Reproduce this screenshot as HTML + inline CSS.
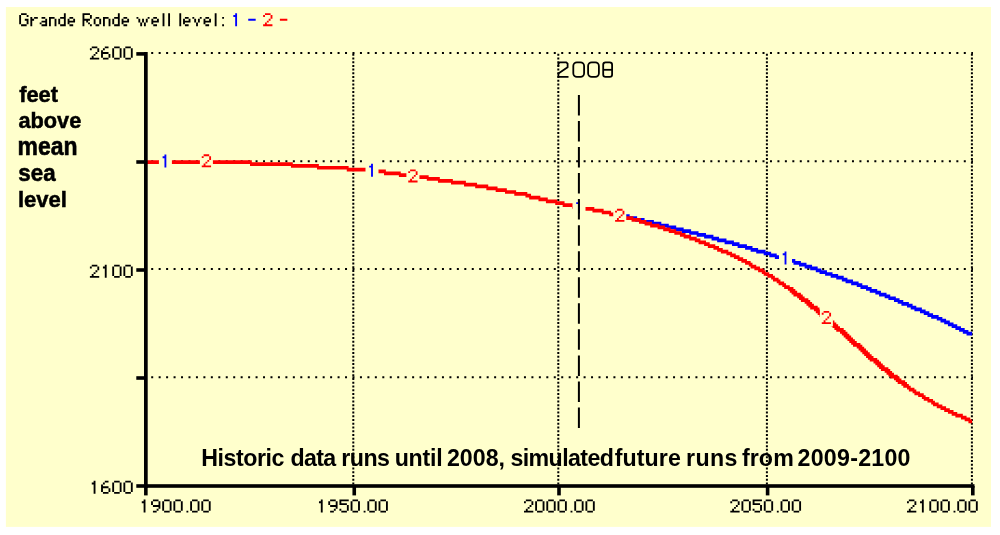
<!DOCTYPE html>
<html><head><meta charset="utf-8"><style>
html,body{margin:0;padding:0;background:#fff;width:1000px;height:535px;overflow:hidden}
svg{position:absolute;left:0;top:0;will-change:transform}
</style></head><body>
<svg width="1000" height="535" viewBox="0 0 1000 535">
<rect x="5.9" y="7" width="985.1" height="519.9" fill="#ffffcc"/>
<line x1="151.2" y1="53.0" x2="973" y2="53.0" stroke="#000" stroke-width="2" stroke-dasharray="2 5.455"/>
<line x1="151.2" y1="161.2" x2="973" y2="161.2" stroke="#000" stroke-width="2" stroke-dasharray="2 5.455"/>
<line x1="151.2" y1="269.1" x2="973" y2="269.1" stroke="#000" stroke-width="2" stroke-dasharray="2 5.455"/>
<line x1="151.2" y1="377.2" x2="973" y2="377.2" stroke="#000" stroke-width="2" stroke-dasharray="2 5.455"/>
<line x1="353.3" y1="53.7" x2="353.3" y2="485" stroke="#000" stroke-width="2" stroke-dasharray="2 1.728"/>
<line x1="558.3" y1="53.7" x2="558.3" y2="485" stroke="#000" stroke-width="2" stroke-dasharray="2 1.728"/>
<line x1="766.9" y1="53.7" x2="766.9" y2="485" stroke="#000" stroke-width="2" stroke-dasharray="2 1.728"/>
<line x1="971.9" y1="53.7" x2="971.9" y2="485" stroke="#000" stroke-width="2" stroke-dasharray="2 1.728"/>
<path d="M696.68 234.86H713.43V236.73H696.68zM666.90 227.41H683.65V229.27H666.90zM901.41 303.83H912.58V305.70H901.41zM635.26 219.95H653.87V221.82H635.26zM737.63 246.05H752.51V247.91H737.63zM804.63 266.55H817.66V268.42H804.63zM681.79 231.14H698.54V233.00H681.79zM856.74 285.19H867.91V287.06H856.74zM627.81 218.09H644.57V219.95H627.81zM717.15 240.46H733.90V242.32H717.15zM642.70 221.82H661.32V223.68H642.70zM810.21 268.42H821.38V270.28H810.21zM884.66 296.38H895.83V298.24H884.66zM787.88 260.96H800.91V262.82H787.88zM910.72 307.56H921.88V309.42H910.72zM652.01 223.68H668.76V225.54H652.01zM962.83 331.79H972.14V333.66H962.83zM947.94 324.34H957.25V326.20H947.94zM793.46 262.82H806.49V264.69H793.46zM888.38 298.24H899.55V300.10H888.38zM612.92 214.36H629.68V216.22H612.92zM951.66 326.20H960.97V328.06H951.66zM936.77 318.74H946.08V320.61H936.77zM763.68 253.50H776.71V255.37H763.68zM774.85 257.23H789.74V259.10H774.85zM711.57 238.59H726.46V240.46H711.57zM893.97 300.10H903.27V301.97H893.97zM799.04 264.69H812.07V266.55H799.04zM875.35 292.65H886.52V294.51H875.35zM955.39 328.06H964.69V329.93H955.39zM745.07 247.91H758.10V249.78H745.07zM940.50 320.61H949.80V322.47H940.50zM674.34 229.27H691.10V231.14H674.34zM689.23 233.00H705.98V234.86H689.23zM780.43 259.10H795.32V260.96H780.43zM860.46 287.06H871.63V288.92H860.46zM879.08 294.51H890.24V296.38H879.08zM944.22 322.47H953.52V324.34H944.22zM927.47 315.02H938.63V316.88H927.47zM618.51 216.22H637.12V218.09H618.51zM750.65 249.78H765.54V251.64H750.65zM815.80 270.28H826.96V272.14H815.80zM866.05 288.92H877.22V290.78H866.05zM914.44 309.42H925.61V311.29H914.44zM825.10 274.01H838.13V275.87H825.10zM897.69 301.97H908.86V303.83H897.69zM732.04 244.18H746.93V246.05H732.04zM704.12 236.73H719.01V238.59H704.12zM659.45 225.54H676.21V227.41H659.45zM959.11 329.93H968.41V331.79H959.11zM920.02 311.29H929.33V313.15H920.02zM756.24 251.64H771.13V253.50H756.24zM906.99 305.70H916.30V307.56H906.99zM724.60 242.32H739.49V244.18H724.60zM845.57 281.46H858.60V283.33H845.57zM769.27 255.37H782.29V257.23H769.27zM830.69 275.87H843.71V277.74H830.69zM923.75 313.15H933.05V315.02H923.75zM836.27 277.74H847.44V279.60H836.27zM819.52 272.14H832.55V274.01H819.52zM841.85 279.60H853.02V281.46H841.85zM851.16 283.33H862.33V285.19H851.16zM612.92 212.50H620.37V214.36H612.92zM869.77 290.78H880.94V292.65H869.77zM966.55 333.66H972.14V335.52H966.55zM931.19 316.88H942.36V318.74H931.19z" fill="#0000ff"/>
<path d="M741.35 260.96H750.65V262.82H741.35zM249.99 164.03H318.86V165.90H249.99zM858.60 348.57H866.05V350.43H858.60zM529.17 197.58H547.78V199.45H529.17zM495.67 190.13H516.14V191.99H495.67zM657.59 227.41H670.62V229.27H657.59zM914.44 393.30H923.75V395.17H914.44zM426.80 178.94H452.86V180.81H426.80zM145.76 162.17H292.80V164.03H145.76zM581.28 208.77H603.62V210.63H581.28zM545.92 201.31H564.53V203.18H545.92zM867.91 357.89H877.22V359.75H867.91zM860.46 350.43H867.91V352.30H860.46zM713.43 247.91H722.74V249.78H713.43zM888.38 374.66H897.69V376.53H888.38zM767.40 275.87H774.85V277.74H767.40zM879.08 367.21H888.38V369.07H879.08zM437.97 180.81H465.89V182.67H437.97zM624.09 218.09H640.84V219.95H624.09zM346.77 169.62H385.86V171.49H346.77zM592.45 210.63H611.06V212.50H592.45zM538.48 199.45H557.09V201.31H538.48zM555.23 203.18H573.84V205.04H555.23zM931.19 402.62H938.63V404.49H931.19zM504.98 191.99H527.31V193.86H504.98zM663.18 229.27H676.21V231.14H663.18zM884.66 370.94H892.10V372.80H884.66zM464.03 184.54H488.22V186.40H464.03zM826.96 320.61H834.41V322.47H826.96zM906.99 387.71H914.44V389.58H906.99zM918.16 395.17H925.61V397.03H918.16zM698.54 242.32H709.71V244.18H698.54zM955.39 415.67H966.55V417.54H955.39zM374.69 171.49H400.75V173.35H374.69zM862.33 352.30H869.77V354.16H862.33zM771.13 277.74H778.57V279.60H771.13zM514.28 193.86H531.03V195.72H514.28zM758.10 270.28H765.54V272.14H758.10zM921.88 397.03H929.33V398.90H921.88zM475.20 186.40H497.53V188.26H475.20zM793.46 294.51H802.77V296.38H793.46zM908.86 389.58H916.30V391.44H908.86zM398.89 175.22H428.67V177.08H398.89zM601.76 212.50H618.51V214.36H601.76zM562.67 205.04H583.15V206.90H562.67zM720.87 251.64H732.04V253.50H720.87zM145.76 160.30H251.85V162.17H145.76zM772.99 279.60H780.43V281.46H772.99zM797.18 296.38H804.63V298.24H797.18zM413.78 177.08H439.83V178.94H413.78zM609.20 214.36H625.95V216.22H609.20zM571.98 206.90H594.31V208.77H571.98zM525.45 195.72H540.34V197.58H525.45zM912.58 391.44H920.02V393.30H912.58zM316.99 167.76H376.55V169.62H316.99zM707.85 246.05H719.01V247.91H707.85zM689.23 238.59H700.40V240.46H689.23zM745.07 262.82H752.51V264.69H745.07zM821.38 316.88H830.69V318.74H821.38zM841.85 333.66H849.30V335.52H841.85zM763.68 274.01H772.99V275.87H763.68zM799.04 298.24H808.35V300.10H799.04zM789.74 290.78H797.18V292.65H789.74zM290.94 165.90H348.63V167.76H290.94zM810.21 307.56H819.52V309.42H810.21zM638.98 221.82H652.01V223.68H638.98zM791.60 292.65H800.91V294.51H791.60zM668.76 231.14H681.79V233.00H668.76zM451.00 182.67H477.06V184.54H451.00zM644.57 223.68H659.45V225.54H644.57zM616.65 216.22H633.40V218.09H616.65zM817.66 313.15H825.10V315.02H817.66zM750.65 266.55H759.96V268.42H750.65zM679.93 234.86H691.10V236.73H679.93zM737.63 259.10H746.93V260.96H737.63zM836.27 329.93H845.57V331.79H836.27zM856.74 346.70H864.19V348.57H856.74zM847.44 339.25H854.88V341.11H847.44zM486.36 188.26H506.84V190.13H486.36zM650.15 225.54H665.04V227.41H650.15zM726.46 253.50H735.76V255.37H726.46zM839.99 331.79H847.44V333.66H839.99zM880.94 369.07H890.24V370.94H880.94zM631.54 219.95H646.43V221.82H631.54zM694.82 240.46H705.98V242.32H694.82zM903.27 385.85H910.72V387.71H903.27zM730.18 255.37H739.49V257.23H730.18zM851.16 342.98H860.46V344.84H851.16zM754.38 268.42H763.68V270.28H754.38zM384.00 173.35H415.64V175.22H384.00zM717.15 249.78H728.32V251.64H717.15zM853.02 344.84H862.33V346.70H853.02zM873.49 361.62H880.94V363.48H873.49zM877.22 365.34H884.66V367.21H877.22zM784.16 287.06H793.46V288.92H784.16zM683.65 236.73H696.68V238.59H683.65zM704.12 244.18H715.29V246.05H704.12zM819.52 315.02H828.82V316.88H819.52zM897.69 382.12H906.99V383.98H897.69zM748.79 264.69H756.24V266.55H748.79zM787.88 288.92H795.32V290.78H787.88zM733.90 257.23H743.21V259.10H733.90zM901.41 383.98H908.86V385.85H901.41zM808.35 305.70H817.66V307.56H808.35zM813.93 309.42H821.38V311.29H813.93zM832.55 326.20H839.99V328.06H832.55zM968.41 421.26H972.14V423.13H968.41zM815.80 311.29H823.24V313.15H815.80zM834.41 328.06H843.71V329.93H834.41zM782.29 285.19H789.74V287.06H782.29zM828.82 322.47H836.27V324.34H828.82zM960.97 417.54H970.28V419.40H960.97zM869.77 359.75H879.08V361.62H869.77zM830.69 324.34H838.13V326.20H830.69zM849.30 341.11H856.74V342.98H849.30zM947.94 411.94H957.25V413.81H947.94zM951.66 413.81H962.83V415.67H951.66zM875.35 363.48H882.80V365.34H875.35zM895.83 380.26H905.13V382.12H895.83zM940.50 408.22H949.80V410.08H940.50zM800.91 300.10H810.21V301.97H800.91zM964.69 419.40H972.14V421.26H964.69zM776.71 281.46H784.16V283.33H776.71zM890.24 376.53H899.55V378.39H890.24zM927.47 400.76H934.91V402.62H927.47zM933.05 404.49H942.36V406.35H933.05zM778.57 283.33H786.02V285.19H778.57zM893.97 378.39H901.41V380.26H893.97zM806.49 303.83H813.93V305.70H806.49zM864.19 354.16H871.63V356.02H864.19zM843.71 335.52H851.16V337.38H843.71zM674.34 233.00H685.51V234.86H674.34zM936.77 406.35H946.08V408.22H936.77zM923.75 398.90H933.05V400.76H923.75zM866.05 356.02H873.49V357.89H866.05zM886.52 372.80H893.97V374.66H886.52zM845.57 337.38H853.02V339.25H845.57zM804.63 301.97H812.07V303.83H804.63zM825.10 318.74H832.55V320.61H825.10zM761.82 272.14H769.27V274.01H761.82zM944.22 410.08H953.52V411.94H944.22z" fill="#ff0000"/>
<rect x="144" y="52" width="3.7" height="436" fill="#000"/>
<rect x="144" y="484.2" width="830.5" height="3.6" fill="#000"/>
<rect x="136.3" y="52.1" width="8" height="3.6" fill="#000"/>
<rect x="136.3" y="160.2" width="8" height="3.6" fill="#000"/>
<rect x="136.3" y="268.2" width="8" height="3.6" fill="#000"/>
<rect x="136.3" y="376.2" width="8" height="3.6" fill="#000"/>
<rect x="136.3" y="484.2" width="8" height="3.6" fill="#000"/>
<rect x="144.04999999999998" y="486" width="3.6" height="9.4" fill="#000"/>
<rect x="352.45" y="486" width="3.6" height="9.4" fill="#000"/>
<rect x="557.2" y="486" width="3.6" height="9.4" fill="#000"/>
<rect x="765.8000000000001" y="486" width="3.6" height="9.4" fill="#000"/>
<rect x="971.0" y="486" width="3.6" height="9.4" fill="#000"/>
<rect x="158.90" y="150.50" width="13.0" height="19" fill="#ffffcc"/>
<path d="M164.47 154.50h1.86v1.86h-1.86zM162.61 156.36h3.72v1.86h-3.72zM164.47 158.22h1.86v1.86h-1.86zM164.47 160.09h1.86v1.86h-1.86zM164.47 161.95h1.86v1.86h-1.86zM164.47 163.81h1.86v1.86h-1.86zM164.47 165.67h1.86v1.86h-1.86z" fill="#0000ff"/>
<rect x="199.90" y="150.30" width="13.0" height="19" fill="#ffffcc"/>
<path d="M203.61 154.30h5.59v1.86h-5.59zM201.75 156.16h1.86v1.86h-1.86zM209.19 156.16h1.86v1.86h-1.86zM209.19 158.02h1.86v1.86h-1.86zM207.33 159.89h1.86v1.86h-1.86zM205.47 161.75h1.86v1.86h-1.86zM203.61 163.61h1.86v1.86h-1.86zM201.75 165.47h9.31v1.86h-9.31z" fill="#ff0000"/>
<rect x="365.50" y="159.80" width="13.0" height="19" fill="#ffffcc"/>
<path d="M371.07 163.80h1.86v1.86h-1.86zM369.21 165.66h3.72v1.86h-3.72zM371.07 167.52h1.86v1.86h-1.86zM371.07 169.39h1.86v1.86h-1.86zM371.07 171.25h1.86v1.86h-1.86zM371.07 173.11h1.86v1.86h-1.86zM371.07 174.97h1.86v1.86h-1.86z" fill="#0000ff"/>
<rect x="406.40" y="165.40" width="13.0" height="19" fill="#ffffcc"/>
<path d="M410.11 169.40h5.59v1.86h-5.59zM408.25 171.26h1.86v1.86h-1.86zM415.69 171.26h1.86v1.86h-1.86zM415.69 173.12h1.86v1.86h-1.86zM413.83 174.99h1.86v1.86h-1.86zM411.97 176.85h1.86v1.86h-1.86zM410.11 178.71h1.86v1.86h-1.86zM408.25 180.57h9.31v1.86h-9.31z" fill="#ff0000"/>
<rect x="572.50" y="196.30" width="13.0" height="19" fill="#ffffcc"/>
<path d="M578.07 200.30h1.86v1.86h-1.86zM576.21 202.16h3.72v1.86h-3.72zM578.07 204.02h1.86v1.86h-1.86zM578.07 205.89h1.86v1.86h-1.86zM578.07 207.75h1.86v1.86h-1.86zM578.07 209.61h1.86v1.86h-1.86zM578.07 211.47h1.86v1.86h-1.86z" fill="#0000ff"/>
<rect x="613.25" y="204.80" width="13.0" height="19" fill="#ffffcc"/>
<path d="M616.96 208.80h5.59v1.86h-5.59zM615.10 210.66h1.86v1.86h-1.86zM622.54 210.66h1.86v1.86h-1.86zM622.54 212.52h1.86v1.86h-1.86zM620.68 214.39h1.86v1.86h-1.86zM618.82 216.25h1.86v1.86h-1.86zM616.96 218.11h1.86v1.86h-1.86zM615.10 219.97h9.31v1.86h-9.31z" fill="#ff0000"/>
<rect x="779.00" y="247.50" width="13.0" height="19" fill="#ffffcc"/>
<path d="M784.57 251.50h1.86v1.86h-1.86zM782.71 253.36h3.72v1.86h-3.72zM784.57 255.22h1.86v1.86h-1.86zM784.57 257.09h1.86v1.86h-1.86zM784.57 258.95h1.86v1.86h-1.86zM784.57 260.81h1.86v1.86h-1.86zM784.57 262.67h1.86v1.86h-1.86z" fill="#0000ff"/>
<rect x="819.90" y="307.00" width="13.0" height="19" fill="#ffffcc"/>
<path d="M823.61 311.00h5.59v1.86h-5.59zM821.75 312.86h1.86v1.86h-1.86zM829.19 312.86h1.86v1.86h-1.86zM829.19 314.72h1.86v1.86h-1.86zM827.33 316.59h1.86v1.86h-1.86zM825.47 318.45h1.86v1.86h-1.86zM823.61 320.31h1.86v1.86h-1.86zM821.75 322.17h9.31v1.86h-9.31z" fill="#ff0000"/>
<line x1="578.9" y1="94.9" x2="578.9" y2="428.3" stroke="#000" stroke-width="2" stroke-dasharray="20.5 5.55"/>
<path d="M21.06 13.20h5.59v1.86h-5.59zM19.20 15.06h1.86v1.86h-1.86zM26.65 15.06h1.86v1.86h-1.86zM19.20 16.92h1.86v1.86h-1.86zM19.20 18.79h1.86v1.86h-1.86zM24.79 18.79h3.72v1.86h-3.72zM19.20 20.65h1.86v1.86h-1.86zM26.65 20.65h1.86v1.86h-1.86zM19.20 22.51h1.86v1.86h-1.86zM26.65 22.51h1.86v1.86h-1.86zM21.06 24.37h5.59v1.86h-5.59zM30.37 16.92h1.86v1.86h-1.86zM34.10 16.92h3.72v1.86h-3.72zM30.37 18.79h3.72v1.86h-3.72zM30.37 20.65h1.86v1.86h-1.86zM30.37 22.51h1.86v1.86h-1.86zM30.37 24.37h1.86v1.86h-1.86zM41.54 16.92h3.72v1.86h-3.72zM45.27 18.79h1.86v1.86h-1.86zM41.54 20.65h5.59v1.86h-5.59zM39.68 22.51h1.86v1.86h-1.86zM45.27 22.51h1.86v1.86h-1.86zM41.54 24.37h5.59v1.86h-5.59zM48.99 16.92h5.59v1.86h-5.59zM48.99 18.79h1.86v1.86h-1.86zM54.58 18.79h1.86v1.86h-1.86zM48.99 20.65h1.86v1.86h-1.86zM54.58 20.65h1.86v1.86h-1.86zM48.99 22.51h1.86v1.86h-1.86zM54.58 22.51h1.86v1.86h-1.86zM48.99 24.37h1.86v1.86h-1.86zM54.58 24.37h1.86v1.86h-1.86zM63.89 13.20h1.86v1.86h-1.86zM63.89 15.06h1.86v1.86h-1.86zM60.16 16.92h5.59v1.86h-5.59zM58.30 18.79h1.86v1.86h-1.86zM63.89 18.79h1.86v1.86h-1.86zM58.30 20.65h1.86v1.86h-1.86zM63.89 20.65h1.86v1.86h-1.86zM58.30 22.51h1.86v1.86h-1.86zM63.89 22.51h1.86v1.86h-1.86zM60.16 24.37h5.59v1.86h-5.59zM69.47 16.92h3.72v1.86h-3.72zM67.61 18.79h1.86v1.86h-1.86zM73.20 18.79h1.86v1.86h-1.86zM67.61 20.65h7.45v1.86h-7.45zM67.61 22.51h1.86v1.86h-1.86zM69.47 24.37h3.72v1.86h-3.72zM82.51 13.20h7.45v1.86h-7.45zM82.51 15.06h1.86v1.86h-1.86zM89.96 15.06h1.86v1.86h-1.86zM82.51 16.92h1.86v1.86h-1.86zM89.96 16.92h1.86v1.86h-1.86zM82.51 18.79h7.45v1.86h-7.45zM82.51 20.65h1.86v1.86h-1.86zM86.23 20.65h1.86v1.86h-1.86zM82.51 22.51h1.86v1.86h-1.86zM88.09 22.51h1.86v1.86h-1.86zM82.51 24.37h1.86v1.86h-1.86zM89.96 24.37h1.86v1.86h-1.86zM95.54 16.92h3.72v1.86h-3.72zM93.68 18.79h1.86v1.86h-1.86zM99.27 18.79h1.86v1.86h-1.86zM93.68 20.65h1.86v1.86h-1.86zM99.27 20.65h1.86v1.86h-1.86zM93.68 22.51h1.86v1.86h-1.86zM99.27 22.51h1.86v1.86h-1.86zM95.54 24.37h3.72v1.86h-3.72zM102.99 16.92h5.59v1.86h-5.59zM102.99 18.79h1.86v1.86h-1.86zM108.58 18.79h1.86v1.86h-1.86zM102.99 20.65h1.86v1.86h-1.86zM108.58 20.65h1.86v1.86h-1.86zM102.99 22.51h1.86v1.86h-1.86zM108.58 22.51h1.86v1.86h-1.86zM102.99 24.37h1.86v1.86h-1.86zM108.58 24.37h1.86v1.86h-1.86zM117.89 13.20h1.86v1.86h-1.86zM117.89 15.06h1.86v1.86h-1.86zM114.16 16.92h5.59v1.86h-5.59zM112.30 18.79h1.86v1.86h-1.86zM117.89 18.79h1.86v1.86h-1.86zM112.30 20.65h1.86v1.86h-1.86zM117.89 20.65h1.86v1.86h-1.86zM112.30 22.51h1.86v1.86h-1.86zM117.89 22.51h1.86v1.86h-1.86zM114.16 24.37h5.59v1.86h-5.59zM123.47 16.92h3.72v1.86h-3.72zM121.61 18.79h1.86v1.86h-1.86zM127.20 18.79h1.86v1.86h-1.86zM121.61 20.65h7.45v1.86h-7.45zM121.61 22.51h1.86v1.86h-1.86zM123.47 24.37h3.72v1.86h-3.72zM136.51 16.92h1.86v1.86h-1.86zM147.68 16.92h1.86v1.86h-1.86zM138.37 18.79h1.86v1.86h-1.86zM142.09 18.79h1.86v1.86h-1.86zM145.82 18.79h1.86v1.86h-1.86zM138.37 20.65h1.86v1.86h-1.86zM142.09 20.65h1.86v1.86h-1.86zM145.82 20.65h1.86v1.86h-1.86zM140.23 22.51h1.86v1.86h-1.86zM143.95 22.51h1.86v1.86h-1.86zM140.23 24.37h1.86v1.86h-1.86zM143.95 24.37h1.86v1.86h-1.86zM153.26 16.92h3.72v1.86h-3.72zM151.40 18.79h1.86v1.86h-1.86zM156.99 18.79h1.86v1.86h-1.86zM151.40 20.65h7.45v1.86h-7.45zM151.40 22.51h1.86v1.86h-1.86zM153.26 24.37h3.72v1.86h-3.72zM162.57 13.20h1.86v1.86h-1.86zM162.57 15.06h1.86v1.86h-1.86zM162.57 16.92h1.86v1.86h-1.86zM162.57 18.79h1.86v1.86h-1.86zM162.57 20.65h1.86v1.86h-1.86zM162.57 22.51h1.86v1.86h-1.86zM162.57 24.37h1.86v1.86h-1.86zM168.16 13.20h1.86v1.86h-1.86zM168.16 15.06h1.86v1.86h-1.86zM168.16 16.92h1.86v1.86h-1.86zM168.16 18.79h1.86v1.86h-1.86zM168.16 20.65h1.86v1.86h-1.86zM168.16 22.51h1.86v1.86h-1.86zM168.16 24.37h1.86v1.86h-1.86zM179.33 13.20h1.86v1.86h-1.86zM179.33 15.06h1.86v1.86h-1.86zM179.33 16.92h1.86v1.86h-1.86zM179.33 18.79h1.86v1.86h-1.86zM179.33 20.65h1.86v1.86h-1.86zM179.33 22.51h1.86v1.86h-1.86zM179.33 24.37h1.86v1.86h-1.86zM184.92 16.92h3.72v1.86h-3.72zM183.06 18.79h1.86v1.86h-1.86zM188.64 18.79h1.86v1.86h-1.86zM183.06 20.65h7.45v1.86h-7.45zM183.06 22.51h1.86v1.86h-1.86zM184.92 24.37h3.72v1.86h-3.72zM192.37 16.92h1.86v1.86h-1.86zM199.81 16.92h1.86v1.86h-1.86zM194.23 18.79h1.86v1.86h-1.86zM197.95 18.79h1.86v1.86h-1.86zM194.23 20.65h1.86v1.86h-1.86zM197.95 20.65h1.86v1.86h-1.86zM196.09 22.51h1.86v1.86h-1.86zM196.09 24.37h1.86v1.86h-1.86zM205.40 16.92h3.72v1.86h-3.72zM203.54 18.79h1.86v1.86h-1.86zM209.12 18.79h1.86v1.86h-1.86zM203.54 20.65h7.45v1.86h-7.45zM203.54 22.51h1.86v1.86h-1.86zM205.40 24.37h3.72v1.86h-3.72zM214.71 13.20h1.86v1.86h-1.86zM214.71 15.06h1.86v1.86h-1.86zM214.71 16.92h1.86v1.86h-1.86zM214.71 18.79h1.86v1.86h-1.86zM214.71 20.65h1.86v1.86h-1.86zM214.71 22.51h1.86v1.86h-1.86zM214.71 24.37h1.86v1.86h-1.86zM222.16 16.92h1.86v1.86h-1.86zM222.16 24.37h1.86v1.86h-1.86z" fill="#000"/>
<path d="M235.19 13.20h1.86v1.86h-1.86zM233.33 15.06h3.72v1.86h-3.72zM235.19 16.92h1.86v1.86h-1.86zM235.19 18.79h1.86v1.86h-1.86zM235.19 20.65h1.86v1.86h-1.86zM235.19 22.51h1.86v1.86h-1.86zM235.19 24.37h1.86v1.86h-1.86zM248.23 18.79h7.45v1.86h-7.45z" fill="#0000ff"/>
<path d="M264.98 13.20h5.59v1.86h-5.59zM263.12 15.06h1.86v1.86h-1.86zM270.57 15.06h1.86v1.86h-1.86zM270.57 16.92h1.86v1.86h-1.86zM268.71 18.79h1.86v1.86h-1.86zM266.85 20.65h1.86v1.86h-1.86zM264.98 22.51h1.86v1.86h-1.86zM263.12 24.37h9.31v1.86h-9.31zM279.88 18.79h7.45v1.86h-7.45z" fill="#ff0000"/>
<path d="M91.76 46.50h5.59v1.86h-5.59zM89.90 48.36h1.86v1.86h-1.86zM97.35 48.36h1.86v1.86h-1.86zM97.35 50.22h1.86v1.86h-1.86zM95.49 52.09h1.86v1.86h-1.86zM93.62 53.95h1.86v1.86h-1.86zM91.76 55.81h1.86v1.86h-1.86zM89.90 57.67h9.31v1.86h-9.31zM104.80 46.50h3.72v1.86h-3.72zM102.93 48.36h1.86v1.86h-1.86zM101.07 50.22h1.86v1.86h-1.86zM101.07 52.09h7.45v1.86h-7.45zM101.07 53.95h1.86v1.86h-1.86zM108.52 53.95h1.86v1.86h-1.86zM101.07 55.81h1.86v1.86h-1.86zM108.52 55.81h1.86v1.86h-1.86zM102.93 57.67h5.59v1.86h-5.59zM114.11 46.50h5.59v1.86h-5.59zM112.24 48.36h1.86v1.86h-1.86zM119.69 48.36h1.86v1.86h-1.86zM112.24 50.22h1.86v1.86h-1.86zM119.69 50.22h1.86v1.86h-1.86zM112.24 52.09h1.86v1.86h-1.86zM119.69 52.09h1.86v1.86h-1.86zM112.24 53.95h1.86v1.86h-1.86zM119.69 53.95h1.86v1.86h-1.86zM112.24 55.81h1.86v1.86h-1.86zM119.69 55.81h1.86v1.86h-1.86zM114.11 57.67h5.59v1.86h-5.59zM125.28 46.50h5.59v1.86h-5.59zM123.42 48.36h1.86v1.86h-1.86zM130.86 48.36h1.86v1.86h-1.86zM123.42 50.22h1.86v1.86h-1.86zM130.86 50.22h1.86v1.86h-1.86zM123.42 52.09h1.86v1.86h-1.86zM130.86 52.09h1.86v1.86h-1.86zM123.42 53.95h1.86v1.86h-1.86zM130.86 53.95h1.86v1.86h-1.86zM123.42 55.81h1.86v1.86h-1.86zM130.86 55.81h1.86v1.86h-1.86zM125.28 57.67h5.59v1.86h-5.59z" fill="#000"/>
<path d="M91.76 264.75h5.59v1.86h-5.59zM89.90 266.61h1.86v1.86h-1.86zM97.35 266.61h1.86v1.86h-1.86zM97.35 268.47h1.86v1.86h-1.86zM95.49 270.34h1.86v1.86h-1.86zM93.62 272.20h1.86v1.86h-1.86zM91.76 274.06h1.86v1.86h-1.86zM89.90 275.92h9.31v1.86h-9.31zM104.80 264.75h1.86v1.86h-1.86zM102.93 266.61h3.72v1.86h-3.72zM104.80 268.47h1.86v1.86h-1.86zM104.80 270.34h1.86v1.86h-1.86zM104.80 272.20h1.86v1.86h-1.86zM104.80 274.06h1.86v1.86h-1.86zM104.80 275.92h1.86v1.86h-1.86zM114.11 264.75h5.59v1.86h-5.59zM112.24 266.61h1.86v1.86h-1.86zM119.69 266.61h1.86v1.86h-1.86zM112.24 268.47h1.86v1.86h-1.86zM119.69 268.47h1.86v1.86h-1.86zM112.24 270.34h1.86v1.86h-1.86zM119.69 270.34h1.86v1.86h-1.86zM112.24 272.20h1.86v1.86h-1.86zM119.69 272.20h1.86v1.86h-1.86zM112.24 274.06h1.86v1.86h-1.86zM119.69 274.06h1.86v1.86h-1.86zM114.11 275.92h5.59v1.86h-5.59zM125.28 264.75h5.59v1.86h-5.59zM123.42 266.61h1.86v1.86h-1.86zM130.86 266.61h1.86v1.86h-1.86zM123.42 268.47h1.86v1.86h-1.86zM130.86 268.47h1.86v1.86h-1.86zM123.42 270.34h1.86v1.86h-1.86zM130.86 270.34h1.86v1.86h-1.86zM123.42 272.20h1.86v1.86h-1.86zM130.86 272.20h1.86v1.86h-1.86zM123.42 274.06h1.86v1.86h-1.86zM130.86 274.06h1.86v1.86h-1.86zM125.28 275.92h5.59v1.86h-5.59z" fill="#000"/>
<path d="M93.62 480.75h1.86v1.86h-1.86zM91.76 482.61h3.72v1.86h-3.72zM93.62 484.47h1.86v1.86h-1.86zM93.62 486.34h1.86v1.86h-1.86zM93.62 488.20h1.86v1.86h-1.86zM93.62 490.06h1.86v1.86h-1.86zM93.62 491.92h1.86v1.86h-1.86zM104.80 480.75h3.72v1.86h-3.72zM102.93 482.61h1.86v1.86h-1.86zM101.07 484.47h1.86v1.86h-1.86zM101.07 486.34h7.45v1.86h-7.45zM101.07 488.20h1.86v1.86h-1.86zM108.52 488.20h1.86v1.86h-1.86zM101.07 490.06h1.86v1.86h-1.86zM108.52 490.06h1.86v1.86h-1.86zM102.93 491.92h5.59v1.86h-5.59zM114.11 480.75h5.59v1.86h-5.59zM112.24 482.61h1.86v1.86h-1.86zM119.69 482.61h1.86v1.86h-1.86zM112.24 484.47h1.86v1.86h-1.86zM119.69 484.47h1.86v1.86h-1.86zM112.24 486.34h1.86v1.86h-1.86zM119.69 486.34h1.86v1.86h-1.86zM112.24 488.20h1.86v1.86h-1.86zM119.69 488.20h1.86v1.86h-1.86zM112.24 490.06h1.86v1.86h-1.86zM119.69 490.06h1.86v1.86h-1.86zM114.11 491.92h5.59v1.86h-5.59zM125.28 480.75h5.59v1.86h-5.59zM123.42 482.61h1.86v1.86h-1.86zM130.86 482.61h1.86v1.86h-1.86zM123.42 484.47h1.86v1.86h-1.86zM130.86 484.47h1.86v1.86h-1.86zM123.42 486.34h1.86v1.86h-1.86zM130.86 486.34h1.86v1.86h-1.86zM123.42 488.20h1.86v1.86h-1.86zM130.86 488.20h1.86v1.86h-1.86zM123.42 490.06h1.86v1.86h-1.86zM130.86 490.06h1.86v1.86h-1.86zM125.28 491.92h5.59v1.86h-5.59z" fill="#000"/>
<path d="M143.62 499.50h1.86v1.86h-1.86zM141.76 501.36h3.72v1.86h-3.72zM143.62 503.22h1.86v1.86h-1.86zM143.62 505.09h1.86v1.86h-1.86zM143.62 506.95h1.86v1.86h-1.86zM143.62 508.81h1.86v1.86h-1.86zM143.62 510.67h1.86v1.86h-1.86zM152.93 499.50h5.59v1.86h-5.59zM151.07 501.36h1.86v1.86h-1.86zM158.52 501.36h1.86v1.86h-1.86zM151.07 503.22h1.86v1.86h-1.86zM158.52 503.22h1.86v1.86h-1.86zM152.93 505.09h7.45v1.86h-7.45zM158.52 506.95h1.86v1.86h-1.86zM156.66 508.81h1.86v1.86h-1.86zM152.93 510.67h3.72v1.86h-3.72zM164.11 499.50h5.59v1.86h-5.59zM162.24 501.36h1.86v1.86h-1.86zM169.69 501.36h1.86v1.86h-1.86zM162.24 503.22h1.86v1.86h-1.86zM169.69 503.22h1.86v1.86h-1.86zM162.24 505.09h1.86v1.86h-1.86zM169.69 505.09h1.86v1.86h-1.86zM162.24 506.95h1.86v1.86h-1.86zM169.69 506.95h1.86v1.86h-1.86zM162.24 508.81h1.86v1.86h-1.86zM169.69 508.81h1.86v1.86h-1.86zM164.11 510.67h5.59v1.86h-5.59zM175.28 499.50h5.59v1.86h-5.59zM173.42 501.36h1.86v1.86h-1.86zM180.86 501.36h1.86v1.86h-1.86zM173.42 503.22h1.86v1.86h-1.86zM180.86 503.22h1.86v1.86h-1.86zM173.42 505.09h1.86v1.86h-1.86zM180.86 505.09h1.86v1.86h-1.86zM173.42 506.95h1.86v1.86h-1.86zM180.86 506.95h1.86v1.86h-1.86zM173.42 508.81h1.86v1.86h-1.86zM180.86 508.81h1.86v1.86h-1.86zM175.28 510.67h5.59v1.86h-5.59zM186.45 510.67h1.86v1.86h-1.86zM192.04 499.50h5.59v1.86h-5.59zM190.17 501.36h1.86v1.86h-1.86zM197.62 501.36h1.86v1.86h-1.86zM190.17 503.22h1.86v1.86h-1.86zM197.62 503.22h1.86v1.86h-1.86zM190.17 505.09h1.86v1.86h-1.86zM197.62 505.09h1.86v1.86h-1.86zM190.17 506.95h1.86v1.86h-1.86zM197.62 506.95h1.86v1.86h-1.86zM190.17 508.81h1.86v1.86h-1.86zM197.62 508.81h1.86v1.86h-1.86zM192.04 510.67h5.59v1.86h-5.59zM203.21 499.50h5.59v1.86h-5.59zM201.35 501.36h1.86v1.86h-1.86zM208.79 501.36h1.86v1.86h-1.86zM201.35 503.22h1.86v1.86h-1.86zM208.79 503.22h1.86v1.86h-1.86zM201.35 505.09h1.86v1.86h-1.86zM208.79 505.09h1.86v1.86h-1.86zM201.35 506.95h1.86v1.86h-1.86zM208.79 506.95h1.86v1.86h-1.86zM201.35 508.81h1.86v1.86h-1.86zM208.79 508.81h1.86v1.86h-1.86zM203.21 510.67h5.59v1.86h-5.59z" fill="#000"/>
<path d="M320.82 499.50h1.86v1.86h-1.86zM318.96 501.36h3.72v1.86h-3.72zM320.82 503.22h1.86v1.86h-1.86zM320.82 505.09h1.86v1.86h-1.86zM320.82 506.95h1.86v1.86h-1.86zM320.82 508.81h1.86v1.86h-1.86zM320.82 510.67h1.86v1.86h-1.86zM330.13 499.50h5.59v1.86h-5.59zM328.27 501.36h1.86v1.86h-1.86zM335.72 501.36h1.86v1.86h-1.86zM328.27 503.22h1.86v1.86h-1.86zM335.72 503.22h1.86v1.86h-1.86zM330.13 505.09h7.45v1.86h-7.45zM335.72 506.95h1.86v1.86h-1.86zM333.86 508.81h1.86v1.86h-1.86zM330.13 510.67h3.72v1.86h-3.72zM339.44 499.50h9.31v1.86h-9.31zM339.44 501.36h1.86v1.86h-1.86zM339.44 503.22h7.45v1.86h-7.45zM346.89 505.09h1.86v1.86h-1.86zM346.89 506.95h1.86v1.86h-1.86zM339.44 508.81h1.86v1.86h-1.86zM346.89 508.81h1.86v1.86h-1.86zM341.31 510.67h5.59v1.86h-5.59zM352.48 499.50h5.59v1.86h-5.59zM350.62 501.36h1.86v1.86h-1.86zM358.06 501.36h1.86v1.86h-1.86zM350.62 503.22h1.86v1.86h-1.86zM358.06 503.22h1.86v1.86h-1.86zM350.62 505.09h1.86v1.86h-1.86zM358.06 505.09h1.86v1.86h-1.86zM350.62 506.95h1.86v1.86h-1.86zM358.06 506.95h1.86v1.86h-1.86zM350.62 508.81h1.86v1.86h-1.86zM358.06 508.81h1.86v1.86h-1.86zM352.48 510.67h5.59v1.86h-5.59zM363.65 510.67h1.86v1.86h-1.86zM369.24 499.50h5.59v1.86h-5.59zM367.37 501.36h1.86v1.86h-1.86zM374.82 501.36h1.86v1.86h-1.86zM367.37 503.22h1.86v1.86h-1.86zM374.82 503.22h1.86v1.86h-1.86zM367.37 505.09h1.86v1.86h-1.86zM374.82 505.09h1.86v1.86h-1.86zM367.37 506.95h1.86v1.86h-1.86zM374.82 506.95h1.86v1.86h-1.86zM367.37 508.81h1.86v1.86h-1.86zM374.82 508.81h1.86v1.86h-1.86zM369.24 510.67h5.59v1.86h-5.59zM380.41 499.50h5.59v1.86h-5.59zM378.55 501.36h1.86v1.86h-1.86zM385.99 501.36h1.86v1.86h-1.86zM378.55 503.22h1.86v1.86h-1.86zM385.99 503.22h1.86v1.86h-1.86zM378.55 505.09h1.86v1.86h-1.86zM385.99 505.09h1.86v1.86h-1.86zM378.55 506.95h1.86v1.86h-1.86zM385.99 506.95h1.86v1.86h-1.86zM378.55 508.81h1.86v1.86h-1.86zM385.99 508.81h1.86v1.86h-1.86zM380.41 510.67h5.59v1.86h-5.59z" fill="#000"/>
<path d="M525.86 499.50h5.59v1.86h-5.59zM524.00 501.36h1.86v1.86h-1.86zM531.45 501.36h1.86v1.86h-1.86zM531.45 503.22h1.86v1.86h-1.86zM529.59 505.09h1.86v1.86h-1.86zM527.72 506.95h1.86v1.86h-1.86zM525.86 508.81h1.86v1.86h-1.86zM524.00 510.67h9.31v1.86h-9.31zM537.03 499.50h5.59v1.86h-5.59zM535.17 501.36h1.86v1.86h-1.86zM542.62 501.36h1.86v1.86h-1.86zM535.17 503.22h1.86v1.86h-1.86zM542.62 503.22h1.86v1.86h-1.86zM535.17 505.09h1.86v1.86h-1.86zM542.62 505.09h1.86v1.86h-1.86zM535.17 506.95h1.86v1.86h-1.86zM542.62 506.95h1.86v1.86h-1.86zM535.17 508.81h1.86v1.86h-1.86zM542.62 508.81h1.86v1.86h-1.86zM537.03 510.67h5.59v1.86h-5.59zM548.21 499.50h5.59v1.86h-5.59zM546.34 501.36h1.86v1.86h-1.86zM553.79 501.36h1.86v1.86h-1.86zM546.34 503.22h1.86v1.86h-1.86zM553.79 503.22h1.86v1.86h-1.86zM546.34 505.09h1.86v1.86h-1.86zM553.79 505.09h1.86v1.86h-1.86zM546.34 506.95h1.86v1.86h-1.86zM553.79 506.95h1.86v1.86h-1.86zM546.34 508.81h1.86v1.86h-1.86zM553.79 508.81h1.86v1.86h-1.86zM548.21 510.67h5.59v1.86h-5.59zM559.38 499.50h5.59v1.86h-5.59zM557.52 501.36h1.86v1.86h-1.86zM564.96 501.36h1.86v1.86h-1.86zM557.52 503.22h1.86v1.86h-1.86zM564.96 503.22h1.86v1.86h-1.86zM557.52 505.09h1.86v1.86h-1.86zM564.96 505.09h1.86v1.86h-1.86zM557.52 506.95h1.86v1.86h-1.86zM564.96 506.95h1.86v1.86h-1.86zM557.52 508.81h1.86v1.86h-1.86zM564.96 508.81h1.86v1.86h-1.86zM559.38 510.67h5.59v1.86h-5.59zM570.55 510.67h1.86v1.86h-1.86zM576.14 499.50h5.59v1.86h-5.59zM574.27 501.36h1.86v1.86h-1.86zM581.72 501.36h1.86v1.86h-1.86zM574.27 503.22h1.86v1.86h-1.86zM581.72 503.22h1.86v1.86h-1.86zM574.27 505.09h1.86v1.86h-1.86zM581.72 505.09h1.86v1.86h-1.86zM574.27 506.95h1.86v1.86h-1.86zM581.72 506.95h1.86v1.86h-1.86zM574.27 508.81h1.86v1.86h-1.86zM581.72 508.81h1.86v1.86h-1.86zM576.14 510.67h5.59v1.86h-5.59zM587.31 499.50h5.59v1.86h-5.59zM585.45 501.36h1.86v1.86h-1.86zM592.89 501.36h1.86v1.86h-1.86zM585.45 503.22h1.86v1.86h-1.86zM592.89 503.22h1.86v1.86h-1.86zM585.45 505.09h1.86v1.86h-1.86zM592.89 505.09h1.86v1.86h-1.86zM585.45 506.95h1.86v1.86h-1.86zM592.89 506.95h1.86v1.86h-1.86zM585.45 508.81h1.86v1.86h-1.86zM592.89 508.81h1.86v1.86h-1.86zM587.31 510.67h5.59v1.86h-5.59z" fill="#000"/>
<path d="M732.16 499.50h5.59v1.86h-5.59zM730.30 501.36h1.86v1.86h-1.86zM737.75 501.36h1.86v1.86h-1.86zM737.75 503.22h1.86v1.86h-1.86zM735.89 505.09h1.86v1.86h-1.86zM734.02 506.95h1.86v1.86h-1.86zM732.16 508.81h1.86v1.86h-1.86zM730.30 510.67h9.31v1.86h-9.31zM743.33 499.50h5.59v1.86h-5.59zM741.47 501.36h1.86v1.86h-1.86zM748.92 501.36h1.86v1.86h-1.86zM741.47 503.22h1.86v1.86h-1.86zM748.92 503.22h1.86v1.86h-1.86zM741.47 505.09h1.86v1.86h-1.86zM748.92 505.09h1.86v1.86h-1.86zM741.47 506.95h1.86v1.86h-1.86zM748.92 506.95h1.86v1.86h-1.86zM741.47 508.81h1.86v1.86h-1.86zM748.92 508.81h1.86v1.86h-1.86zM743.33 510.67h5.59v1.86h-5.59zM752.64 499.50h9.31v1.86h-9.31zM752.64 501.36h1.86v1.86h-1.86zM752.64 503.22h7.45v1.86h-7.45zM760.09 505.09h1.86v1.86h-1.86zM760.09 506.95h1.86v1.86h-1.86zM752.64 508.81h1.86v1.86h-1.86zM760.09 508.81h1.86v1.86h-1.86zM754.51 510.67h5.59v1.86h-5.59zM765.68 499.50h5.59v1.86h-5.59zM763.82 501.36h1.86v1.86h-1.86zM771.26 501.36h1.86v1.86h-1.86zM763.82 503.22h1.86v1.86h-1.86zM771.26 503.22h1.86v1.86h-1.86zM763.82 505.09h1.86v1.86h-1.86zM771.26 505.09h1.86v1.86h-1.86zM763.82 506.95h1.86v1.86h-1.86zM771.26 506.95h1.86v1.86h-1.86zM763.82 508.81h1.86v1.86h-1.86zM771.26 508.81h1.86v1.86h-1.86zM765.68 510.67h5.59v1.86h-5.59zM776.85 510.67h1.86v1.86h-1.86zM782.44 499.50h5.59v1.86h-5.59zM780.57 501.36h1.86v1.86h-1.86zM788.02 501.36h1.86v1.86h-1.86zM780.57 503.22h1.86v1.86h-1.86zM788.02 503.22h1.86v1.86h-1.86zM780.57 505.09h1.86v1.86h-1.86zM788.02 505.09h1.86v1.86h-1.86zM780.57 506.95h1.86v1.86h-1.86zM788.02 506.95h1.86v1.86h-1.86zM780.57 508.81h1.86v1.86h-1.86zM788.02 508.81h1.86v1.86h-1.86zM782.44 510.67h5.59v1.86h-5.59zM793.61 499.50h5.59v1.86h-5.59zM791.75 501.36h1.86v1.86h-1.86zM799.19 501.36h1.86v1.86h-1.86zM791.75 503.22h1.86v1.86h-1.86zM799.19 503.22h1.86v1.86h-1.86zM791.75 505.09h1.86v1.86h-1.86zM799.19 505.09h1.86v1.86h-1.86zM791.75 506.95h1.86v1.86h-1.86zM799.19 506.95h1.86v1.86h-1.86zM791.75 508.81h1.86v1.86h-1.86zM799.19 508.81h1.86v1.86h-1.86zM793.61 510.67h5.59v1.86h-5.59z" fill="#000"/>
<path d="M908.86 499.50h5.59v1.86h-5.59zM907.00 501.36h1.86v1.86h-1.86zM914.45 501.36h1.86v1.86h-1.86zM914.45 503.22h1.86v1.86h-1.86zM912.59 505.09h1.86v1.86h-1.86zM910.72 506.95h1.86v1.86h-1.86zM908.86 508.81h1.86v1.86h-1.86zM907.00 510.67h9.31v1.86h-9.31zM921.90 499.50h1.86v1.86h-1.86zM920.03 501.36h3.72v1.86h-3.72zM921.90 503.22h1.86v1.86h-1.86zM921.90 505.09h1.86v1.86h-1.86zM921.90 506.95h1.86v1.86h-1.86zM921.90 508.81h1.86v1.86h-1.86zM921.90 510.67h1.86v1.86h-1.86zM931.21 499.50h5.59v1.86h-5.59zM929.34 501.36h1.86v1.86h-1.86zM936.79 501.36h1.86v1.86h-1.86zM929.34 503.22h1.86v1.86h-1.86zM936.79 503.22h1.86v1.86h-1.86zM929.34 505.09h1.86v1.86h-1.86zM936.79 505.09h1.86v1.86h-1.86zM929.34 506.95h1.86v1.86h-1.86zM936.79 506.95h1.86v1.86h-1.86zM929.34 508.81h1.86v1.86h-1.86zM936.79 508.81h1.86v1.86h-1.86zM931.21 510.67h5.59v1.86h-5.59zM942.38 499.50h5.59v1.86h-5.59zM940.52 501.36h1.86v1.86h-1.86zM947.96 501.36h1.86v1.86h-1.86zM940.52 503.22h1.86v1.86h-1.86zM947.96 503.22h1.86v1.86h-1.86zM940.52 505.09h1.86v1.86h-1.86zM947.96 505.09h1.86v1.86h-1.86zM940.52 506.95h1.86v1.86h-1.86zM947.96 506.95h1.86v1.86h-1.86zM940.52 508.81h1.86v1.86h-1.86zM947.96 508.81h1.86v1.86h-1.86zM942.38 510.67h5.59v1.86h-5.59zM953.55 510.67h1.86v1.86h-1.86zM959.14 499.50h5.59v1.86h-5.59zM957.27 501.36h1.86v1.86h-1.86zM964.72 501.36h1.86v1.86h-1.86zM957.27 503.22h1.86v1.86h-1.86zM964.72 503.22h1.86v1.86h-1.86zM957.27 505.09h1.86v1.86h-1.86zM964.72 505.09h1.86v1.86h-1.86zM957.27 506.95h1.86v1.86h-1.86zM964.72 506.95h1.86v1.86h-1.86zM957.27 508.81h1.86v1.86h-1.86zM964.72 508.81h1.86v1.86h-1.86zM959.14 510.67h5.59v1.86h-5.59zM970.31 499.50h5.59v1.86h-5.59zM968.45 501.36h1.86v1.86h-1.86zM975.89 501.36h1.86v1.86h-1.86zM968.45 503.22h1.86v1.86h-1.86zM975.89 503.22h1.86v1.86h-1.86zM968.45 505.09h1.86v1.86h-1.86zM975.89 505.09h1.86v1.86h-1.86zM968.45 506.95h1.86v1.86h-1.86zM975.89 506.95h1.86v1.86h-1.86zM968.45 508.81h1.86v1.86h-1.86zM975.89 508.81h1.86v1.86h-1.86zM970.31 510.67h5.59v1.86h-5.59z" fill="#000"/>
<text transform="translate(19.18,102.25) scale(0.9938,0.9935)" x="0" y="0" font-family="Liberation Sans, sans-serif" font-size="22" font-weight="bold" fill="#000" stroke="#000" stroke-width="0.5">feet</text>
<text transform="translate(18.48,128.30) scale(0.9880,1.0000)" x="0" y="0" font-family="Liberation Sans, sans-serif" font-size="22" font-weight="bold" fill="#000" stroke="#000" stroke-width="0.5">above</text>
<text transform="translate(17.45,154.90) scale(1.0455,1.1667)" x="0" y="0" font-family="Liberation Sans, sans-serif" font-size="22" font-weight="bold" fill="#000" stroke="#000" stroke-width="0.5">mean</text>
<text transform="translate(18.35,180.90) scale(1.0145,1.1256)" x="0" y="0" font-family="Liberation Sans, sans-serif" font-size="22" font-weight="bold" fill="#000" stroke="#000" stroke-width="0.5">sea</text>
<text transform="translate(18.00,206.50) scale(1.0000,1.0000)" x="0" y="0" font-family="Liberation Sans, sans-serif" font-size="22" font-weight="bold" fill="#000" stroke="#000" stroke-width="0.5">level</text>
<g fill="none" stroke="#000" stroke-width="1.8"><path d="M558.4,66.2 V63.6 L559.8,62.3 H566.3 L567.6,63.6 V67.3 L558.4,73.4 V76.8 H568.5" stroke-linejoin="round"/><rect x="573.3" y="62.3" width="10.8" height="14.5" rx="3.6"/><rect x="588.1" y="62.3" width="10.8" height="14.5" rx="3.6"/><rect x="603.2" y="62.3" width="8.9" height="14.5" rx="2.4"/><path d="M603.2,69.8 H612.1"/></g>
<text x="201.2" y="465.6" font-family="Liberation Sans, sans-serif" font-size="23.2" font-weight="bold" fill="#000" text-anchor="start" letter-spacing="-0.444">Historic</text>
<text x="290.45" y="465.6" font-family="Liberation Sans, sans-serif" font-size="23.2" font-weight="bold" fill="#000" text-anchor="start" letter-spacing="-0.682">data</text>
<text x="341.2" y="465.6" font-family="Liberation Sans, sans-serif" font-size="23.2" font-weight="bold" fill="#000" text-anchor="start" letter-spacing="-0.482">runs</text>
<text x="394.65" y="465.6" font-family="Liberation Sans, sans-serif" font-size="23.2" font-weight="bold" fill="#000" text-anchor="start" letter-spacing="-0.215">until</text>
<text x="446.9" y="465.6" font-family="Liberation Sans, sans-serif" font-size="23.2" font-weight="bold" fill="#000" text-anchor="start" letter-spacing="0.035">2008,</text>
<text x="510.45" y="465.6" font-family="Liberation Sans, sans-serif" font-size="23.2" font-weight="bold" fill="#000" text-anchor="start" letter-spacing="-0.59">simulated</text>
<text x="614.8" y="465.6" font-family="Liberation Sans, sans-serif" font-size="23.2" font-weight="bold" fill="#000" text-anchor="start" letter-spacing="0.065">future</text>
<text x="686.1" y="465.6" font-family="Liberation Sans, sans-serif" font-size="23.2" font-weight="bold" fill="#000" text-anchor="start" letter-spacing="0.318">runs</text>
<text x="741.9" y="465.6" font-family="Liberation Sans, sans-serif" font-size="23.2" font-weight="bold" fill="#000" text-anchor="start" letter-spacing="0.118">from</text>
<text x="797.55" y="465.6" font-family="Liberation Sans, sans-serif" font-size="23.2" font-weight="bold" fill="#000" text-anchor="start" letter-spacing="0.26">2009-2100</text>
</svg>
</body></html>
